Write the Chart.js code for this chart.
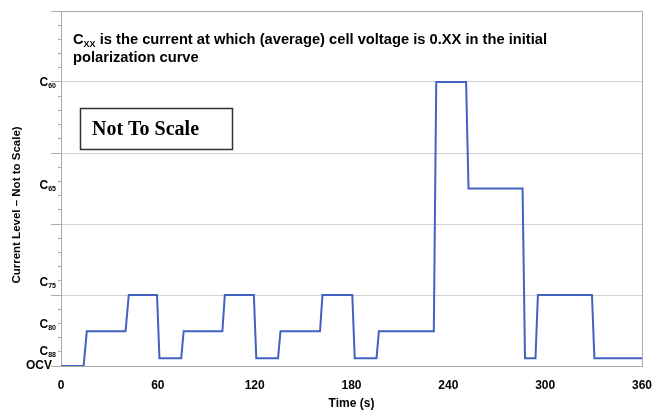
<!DOCTYPE html>
<html>
<head>
<meta charset="utf-8">
<script src="https://cdn.jsdelivr.net/npm/chart.js@4/dist/chart.umd.min.js"></script>
<style>
    html, body { margin: 0; padding: 0; background: #fff; }
    #current-step-chart { display: block; }
</style>
</head>
<body>
<canvas id="current-step-chart" width="653" height="411"></canvas>
<script>
// step profile: time (s) and current level (arbitrary, not to scale)
const timeS = [0, 14, 16, 40, 42, 59.5, 61, 74.5, 76, 100, 101.5, 119.5, 121, 134.5, 136, 160.5, 162,
    180.5, 182, 195.5, 197, 231, 232.5, 251, 252.5, 286, 287.5, 294, 295.5, 329, 330.5, 360];
const currentLevel = [0, 0, 0.49, 0.49, 1, 1, 0.11, 0.11, 0.49, 0.49, 1, 1, 0.11, 0.11, 0.49, 0.49, 1,
    1, 0.11, 0.11, 0.49, 0.49, 4, 4, 2.5, 2.5, 0.11, 0.11, 1, 1, 0.11, 0.11];

// y axis level names (base + subscript) and where they sit on the axis
const levelBase = ['OCV', 'C', 'C', 'C', 'C', 'C'];
const levelSub = ['', '88', '80', '75', '65', '60'];
const levelTickAt = [0, 0.2, 0.58, 1.17, 2.54, 3.99];

const timeTicks = [0, 60, 120, 180, 240, 300, 360];

const SANS = "'Liberation Sans', Arial, sans-serif";
const FRAME = '#aaaaaa';
const GRID = '#d2d2d2';

function isMajor(v) {
    return Math.abs(v - Math.round(v)) < 1e-6;
}

// extra text drawn on top of the plot
const annotations = {
    id: 'annotations',
    afterDraw(chart) {
        const ctx = chart.ctx;
        const y = chart.scales.y;
        ctx.save();
        ctx.fillStyle = '#000';

        // note at the top of the plot
        ctx.textBaseline = 'alphabetic';
        ctx.textAlign = 'left';
        ctx.font = 'bold 14.7px ' + SANS;
        ctx.fillText('C', 73, 44);
        let cw = ctx.measureText('C').width;
        ctx.font = 'bold 9px ' + SANS;
        ctx.fillText('XX', 73 + cw, 47);
        let sw = ctx.measureText('XX').width;
        ctx.font = 'bold 14.7px ' + SANS;
        ctx.fillText(' is the current at which (average) cell voltage is 0.XX in the initial', 73 + cw + sw, 44);
        ctx.fillText('polarization curve', 73, 62);

        // boxed "Not To Scale"
        ctx.fillStyle = '#fff';
        ctx.fillRect(80, 108, 153, 42);
        ctx.strokeStyle = '#333';
        ctx.lineWidth = 1.5;
        ctx.strokeRect(80.5, 108.5, 152, 41);
        ctx.fillStyle = '#000';
        ctx.font = "bold 20px 'Liberation Serif', 'Times New Roman', serif";
        ctx.textBaseline = 'middle';
        ctx.fillText('Not To Scale', 92, 130);

        // y axis level labels with subscripts
        for (let i = 0; i < levelBase.length; i++) {
            const py = y.getPixelForValue(levelTickAt[i]);
            if (levelSub[i] === '') {
                ctx.font = 'bold 12px ' + SANS;
                ctx.textAlign = 'right';
                ctx.textBaseline = 'middle';
                ctx.fillText(levelBase[i], 52, py);
                continue;
            }
            ctx.font = 'bold 7px ' + SANS;
            const subW = ctx.measureText(levelSub[i]).width;
            ctx.textAlign = 'right';
            ctx.textBaseline = 'middle';
            ctx.fillText(levelSub[i], 56, py + 3);
            ctx.font = 'bold 12px ' + SANS;
            ctx.fillText(levelBase[i], 56 - subW, py);
        }

        // y axis title
        ctx.translate(17, 205);
        ctx.rotate(-Math.PI / 2);
        ctx.font = 'bold 11.5px ' + SANS;
        ctx.textAlign = 'center';
        ctx.textBaseline = 'middle';
        ctx.fillText('Current Level \u2013 Not to Scale)', 0, 0);
        ctx.restore();
    }
};

const config = {
    type: 'line',
    data: {
        datasets: [{
            data: timeS.map((t, i) => ({x: t, y: currentLevel[i]})),
            borderColor: '#4262c2',
            borderWidth: 2,
            borderJoinStyle: 'miter',
            pointRadius: 0,
            tension: 0,
            fill: false
        }]
    },
    options: {
        responsive: false,
        animation: false,
        layout: {
            padding: {top: 11, right: 0, left: 0, bottom: 0}
        },
        plugins: {
            legend: {display: false},
            tooltip: {enabled: false}
        },
        scales: {
            x: {
                type: 'linear',
                min: 0,
                max: 360,
                afterBuildTicks: (scale) => {
                    scale.ticks = timeTicks.map(v => ({value: v}));
                },
                afterFit: (scale) => {
                    scale.height = 45;
                    scale.paddingLeft = 0;
                    scale.paddingRight = 11;
                },
                border: {display: true, color: FRAME, width: 1},
                grid: {
                    drawTicks: false,
                    color: (c) => (c.tick && c.tick.value === 360 ? FRAME : 'rgba(0,0,0,0)')
                },
                ticks: {
                    padding: 12,
                    color: '#000',
                    maxRotation: 0,
                    autoSkip: false,
                    font: {family: SANS, size: 12, weight: 'bold'}
                },
                title: {
                    display: true,
                    text: 'Time (s)',
                    color: '#000',
                    padding: {top: 0, bottom: 0},
                    font: {family: SANS, size: 12, weight: 'bold'}
                }
            },
            y: {
                type: 'linear',
                min: 0,
                max: 5,
                afterBuildTicks: (scale) => {
                    const ticks = [];
                    for (let i = 0; i <= 25; i++) {
                        ticks.push({value: Math.round(i * 2) / 10});
                    }
                    scale.ticks = ticks;
                },
                afterFit: (scale) => {
                    scale.width = 61;
                },
                border: {display: true, color: FRAME, width: 1},
                grid: {
                    drawTicks: true,
                    tickLength: 10,
                    color: (c) => {
                        const v = c.tick ? c.tick.value : 0;
                        if (v === 5) return FRAME;
                        return isMajor(v) && v > 0 ? GRID : 'rgba(0,0,0,0)';
                    },
                    tickColor: FRAME,
                    // minor ticks: only the 3px next to the axis line
                    tickBorderDash: (c) => (c.tick && isMajor(c.tick.value) ? [] : [0, 7, 3, 40])
                },
                ticks: {display: false}
            }
        }
    },
    plugins: [annotations]
};

const ctx = document.getElementById('current-step-chart').getContext('2d');
window.currentStepChart = new Chart(ctx, config);
</script>
</body>
</html>
